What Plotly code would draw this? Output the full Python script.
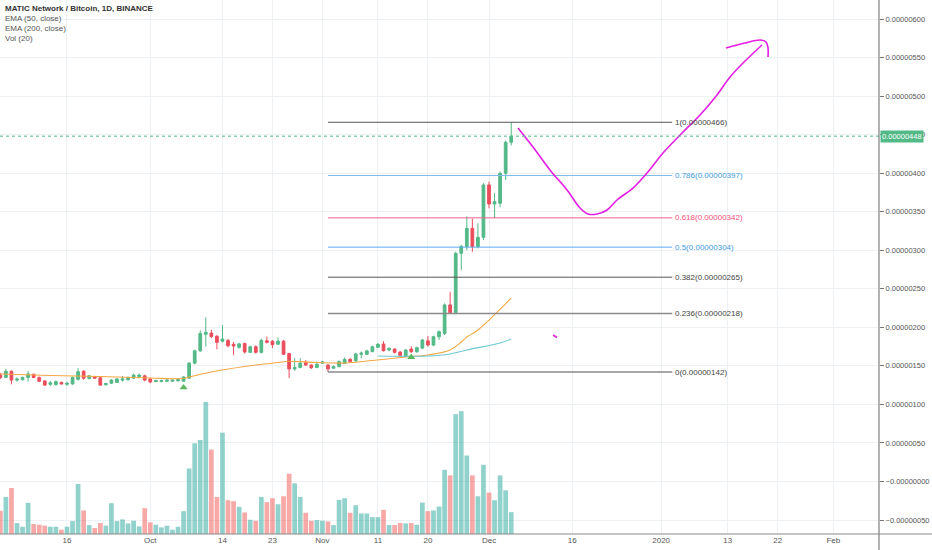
import pandas as pd
import plotly.graph_objects as go

SAT = 1e-8  # prices below are in satoshi

dates = pd.date_range("2019-09-04", "2019-12-05", freq="D")

opens = [138, 135, 143, 131.5, 132, 135, 139, 135, 130.5, 126, 125.5, 128.5, 126, 126.5, 132.5, 143,
         133.5, 136, 134.5, 125.5, 127.5, 128.5, 131.5, 132, 134, 136, 137, 133, 129.5, 129.5, 130, 130,
         130.5, 130, 134, 153.5, 169.5, 191, 192.5, 188.5, 182, 183, 178, 174, 179, 167.5, 174.8, 167.5,
         182.5, 182, 178, 182, 166, 146, 148, 154, 151, 148, 153.5, 151, 147, 149, 153, 158.5, 156.5,
         165, 165, 168.5, 174, 178.3, 170.5, 171.8, 168, 162.5, 171.8, 168.3, 173, 182.5, 177, 187.8,
         192, 229, 219, 296, 304.6, 328.4, 304.6, 316.8, 384.6, 360, 360.9, 399.8, 440]
highs = [141, 146, 144, 135, 136, 143.5, 140, 136, 131, 130.5, 131, 129.5, 129.5, 136, 147, 144.5,
         138, 137, 135.5, 128, 133, 134, 137, 136, 140, 140, 138.5, 134, 132, 132, 132.5, 132.5,
         133.5, 136.5, 155, 171, 196, 213, 196.5, 189.5, 203, 185, 181, 180, 180, 176, 176.5, 185,
         188, 183.5, 187, 183.5, 167, 160, 160, 157.5, 152, 155.5, 156.5, 152, 150.5, 157, 161, 160, 167,
         168.5, 171, 176, 179.5, 182, 174, 173, 169, 172, 175.5, 175, 185, 188.7, 189, 196,
         231, 246, 298, 307, 344, 341, 335, 387, 389, 374, 402, 442, 466]
lows = [133, 134, 126, 129.5, 131, 129.5, 134, 129, 124, 124, 124.5, 125.5, 124, 125.5, 131, 132,
        132.5, 133, 124, 124.5, 126.5, 128, 129.5, 131, 133, 134, 130, 127.5, 129, 129, 129, 129.5,
        130, 129.5, 133, 152, 168, 175, 186, 171.5, 180.5, 174, 164, 172.5, 166, 166.5, 166, 166,
        179, 173, 177, 164, 134, 143.5, 147, 150, 146, 147, 152.5, 142, 146, 148, 152.5, 154, 155,
        160, 164, 167.5, 173, 168.5, 169, 166, 162, 161.5, 167, 167, 171.5, 175, 175.5, 183.5,
        190, 217.5, 217, 274, 300, 298, 302.5, 313, 354.4, 341.4, 356, 391, 436]
closes = [135, 143, 131.5, 133, 135, 139.5, 135, 130, 125, 128, 129.5, 126.5, 127.5, 135, 142.5, 134,
          137, 134, 125, 127, 131.5, 133, 133, 135, 138, 138, 131.5, 129, 131, 131, 131.5, 131.5,
          132.5, 135.5, 153.5, 169.5, 192, 193.5, 188, 180.5, 184.8, 176, 175.7, 178.5, 168, 174.8, 167.5,
          183, 180.5, 177.5, 182, 165, 146, 148, 153.5, 151, 147.5, 152, 155, 146, 149, 155.5, 158.5,
          155.5, 165.4, 166.5, 169.3, 174.8, 178, 169.7, 172.7, 167.5, 163, 170.5, 168.3, 173.5, 183.5,
          177, 187.8, 194.3, 229, 219, 296, 305, 328.4, 304.6, 316.8, 384.6, 360, 363, 399.8, 440, 448]
volumes = [70, 112, 139, 33, 22, 94, 30, 28, 25, 22, 22, 13, 22, 39, 151, 71, 27, 18, 33, 25, 93, 39,
           44, 32, 40, 23, 78, 35, 28, 20, 25, 13, 22, 69, 198, 274, 284, 399, 255, 112, 306, 102, 99,
           82, 65, 43, 40, 112, 96, 108, 90, 114, 182, 153, 112, 64, 40, 42, 40, 38, 27, 103, 108, 64,
           87, 62, 62, 51, 51, 73, 27, 27, 33, 32, 33, 28, 95, 69, 71, 83, 194, 177, 362, 371, 237,
           177, 114, 209, 125, 102, 177, 132, 66]

ema50_dates = ["2019-09-04", "2019-09-13", "2019-09-22", "2019-10-01", "2019-10-07", "2019-10-08",
               "2019-10-12", "2019-10-18", "2019-10-24", "2019-10-26", "2019-10-31", "2019-11-05",
               "2019-11-10", "2019-11-16", "2019-11-20", "2019-11-24", "2019-11-26", "2019-11-27",
               "2019-11-29", "2019-12-05"]
ema50_vals = [139.4, 137.5, 136.2, 134.2, 133.6, 135.5, 142.0, 149.1, 154.3, 155.9, 154.3, 153.7,
              156.9, 161.5, 164.1, 170.6, 180.9, 187.4, 196.5, 238.0]
ema200_dates = ["2019-11-11", "2019-11-20", "2019-11-24", "2019-11-27", "2019-12-03", "2019-12-05"]
ema200_vals = [162.8, 162.8, 165.4, 170.6, 179.6, 184.8]

signal_dates = ["2019-10-07", "2019-11-17"]
signal_vals = [122, 161]

fib_ratios = ["1", "0.786", "0.618", "0.5", "0.382", "0.236", "0"]
fib_vals = [466, 397, 342, 304, 265, 218, 142]
fib_colors = ["#555555", "#7fbbe6", "#f0628e", "#5aacec", "#555555", "#8a8a8a", "#8a8a8a"]
fib_text_colors = ["#444444", "#3d9be0", "#ef4f7c", "#3d9be0", "#444444", "#444444", "#444444"]
fib_widths = [1, 1, 1, 1, 1, 1.6, 1.6]
fib_start, fib_end = "2019-11-02", "2020-01-03"

sketch_dates = ["2019-12-06 05:20", "2019-12-08 22:00", "2019-12-11 23:30", "2019-12-15 01:10",
                "2019-12-17 09:20", "2019-12-18 19:50", "2019-12-20 10:50", "2019-12-22 06:00",
                "2019-12-24 01:10", "2019-12-26 22:20", "2019-12-29 10:50", "2020-01-01 07:55",
                "2020-01-04 22:30", "2020-01-08 00:00", "2020-01-11 01:25", "2020-01-13 09:35",
                "2020-01-15 17:45", "2020-01-19 03:50"]
sketch_vals = [458.6, 433.9, 404.1, 378.1, 354.8, 347.0, 347.0, 352.2, 365.2, 380.7, 400.2, 426.1,
               453.4, 475.4, 501.4, 524.7, 542.9, 566.3]
hook_dates = ["2020-01-12 16:20", "2020-01-16 02:25", "2020-01-18 19:10", "2020-01-19 21:10",
              "2020-01-20 05:45", "2020-01-20 05:45"]
hook_vals = [562.4, 568.9, 572.7, 570.2, 562.4, 550.7]
dash_dates = ["2019-12-12 12:40", "2019-12-13 06:00"]
dash_vals = [190.0, 186.8]

tick_dates = ["2019-09-16", "2019-10-01", "2019-10-14", "2019-10-23", "2019-11-01", "2019-11-11",
              "2019-11-20", "2019-12-01", "2019-12-16", "2020-01-01", "2020-01-13", "2020-01-22",
              "2020-02-01"]
tick_text = ["16", "Oct", "14", "23", "Nov", "11", "20", "Dec", "16", "2020", "13", "22", "Feb"]
price_ticks = list(range(-50, 601, 50))

UP, DOWN = "#53b987", "#eb4d5c"
FONT = "Liberation Sans"


def sat(vals):
    return [v * SAT for v in vals]


def price_label(v):
    s = f"{abs(v) * SAT:.8f}"
    return ("\u2212" + s) if v <= 0 else s


vol_colors = ["rgba(38,166,154,0.5)" if c >= o else "rgba(239,83,80,0.5)" for o, c in zip(opens, closes)]

fig = go.Figure()

fig.add_trace(go.Bar(x=dates, y=volumes, marker_color=vol_colors, marker_line_width=0,
                     width=0.85 * 86400000, yaxis="y2"))

fig.add_trace(go.Candlestick(
    x=dates, open=sat(opens), high=sat(highs), low=sat(lows), close=sat(closes),
    increasing=dict(line=dict(color=UP, width=1), fillcolor=UP),
    decreasing=dict(line=dict(color=DOWN, width=1), fillcolor=DOWN),
    whiskerwidth=0))

fig.add_trace(go.Scatter(x=ema50_dates, y=sat(ema50_vals), mode="lines",
                         line=dict(color="#f5a742", width=1.1, shape="spline")))
fig.add_trace(go.Scatter(x=ema200_dates, y=sat(ema200_vals), mode="lines",
                         line=dict(color="#6cc8d2", width=1.1, shape="spline")))

fig.add_trace(go.Scatter(x=signal_dates, y=sat(signal_vals), mode="markers",
                         marker=dict(symbol="triangle-up", size=7, color="#5cb85c")))

for ratio, val, col, tcol, w in zip(fib_ratios, fib_vals, fib_colors, fib_text_colors, fib_widths):
    fig.add_trace(go.Scatter(x=[fib_start, fib_end], y=[val * SAT, val * SAT], mode="lines",
                             line=dict(color=col, width=w)))
    fig.add_annotation(x=fib_end, y=val * SAT, text=f"{ratio}({val * SAT:.8f})", showarrow=False,
                       xanchor="left", yanchor="middle", xshift=1,
                       font=dict(family=FONT, size=8, color=tcol))

# hand-drawn projection
for xs, ys in [(sketch_dates, sketch_vals), (hook_dates, hook_vals), (dash_dates, dash_vals)]:
    fig.add_trace(go.Scatter(x=xs, y=sat(ys), mode="lines",
                             line=dict(color="#e41fe4", width=1.6, shape="spline", smoothing=1)))

last = closes[-1] * SAT
fig.add_shape(type="line", xref="paper", x0=0, x1=1, yref="y", y0=last, y1=last,
              line=dict(color=UP, width=1, dash="dot"))
fig.add_annotation(xref="paper", x=1, y=last, text=f"{last:.8f}", showarrow=False,
                   xanchor="left", yanchor="middle", xshift=1, bgcolor=UP, borderpad=1,
                   font=dict(family=FONT, size=7.5, color="white"))

# frame lines running into the margins
fig.add_shape(type="line", xref="paper", yref="paper", x0=1, x1=1, y0=-0.04, y1=1,
              line=dict(color="#666", width=1))
fig.add_shape(type="line", xref="paper", yref="paper", x0=0, x1=1.07, y0=0, y1=0,
              line=dict(color="#888", width=1))

legend_lines = ["<b>MATIC Network / Bitcoin, 1D, BINANCE</b>", "EMA (50, close)", "EMA (200, close)", "Vol (20)"]
for i, txt in enumerate(legend_lines):
    fig.add_annotation(xref="paper", yref="paper", x=0, y=1 - (8.5 + 10 * i) / 534, text=txt,
                       showarrow=False, xanchor="left", yanchor="middle", xshift=3,
                       font=dict(family=FONT, size=8, color="#333" if i == 0 else "#555"))

fig.update_layout(
    width=932, height=550,
    margin=dict(l=0, r=53, t=0, b=16),
    paper_bgcolor="white", plot_bgcolor="white",
    showlegend=False,
    font=dict(family=FONT, size=8, color="#555"),
    xaxis=dict(type="date", range=["2019-09-03 22:30", "2020-02-09 05:30"],
               rangeslider=dict(visible=False), tickvals=tick_dates, ticktext=tick_text,
               showgrid=True, gridcolor="#eef1f4", zeroline=False, showline=False,
               ticks="", tickfont=dict(size=8, color="#555")),
    yaxis=dict(side="right", range=[-68.16 * SAT, 624.65 * SAT],
               tickvals=[v * SAT for v in price_ticks], ticktext=[price_label(v) for v in price_ticks],
               showgrid=True, gridcolor="#eef1f4", zeroline=False, showline=False,
               ticks="outside", ticklen=4, tickcolor="#777", tickfont=dict(size=7.5, color="#555")),
    yaxis2=dict(overlaying="y", range=[0, 1613], visible=False),
)

fig.write_html("out.html", config={"displayModeBar": False},
               post_script="document.body.style.margin='0';")
